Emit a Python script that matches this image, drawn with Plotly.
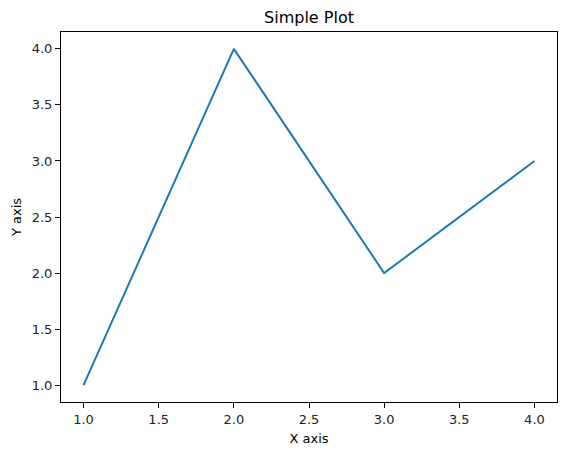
import plotly.graph_objects as go

x_vals = [1, 2, 3, 4]
y_vals = [1, 4, 2, 3]
x_ticks = [1.0, 1.5, 2.0, 2.5, 3.0, 3.5, 4.0]
y_ticks = [1.0, 1.5, 2.0, 2.5, 3.0, 3.5, 4.0]

fig = go.Figure()
fig.add_trace(go.Scatter(x=x_vals, y=y_vals, mode="lines",
                         line=dict(color="#1f77b4", width=2)))

font = "DejaVu Sans"
axis_common = dict(showgrid=False, zeroline=False, showline=True, linecolor="black",
                   linewidth=1, mirror=True, ticks="outside", ticklen=5, tickwidth=1,
                   tickcolor="black", automargin=False,
                   tickfont=dict(family=font, size=13, color="#222"))

# page body has an 8px default margin; size the figure to fit the window inside it
fig.update_layout(
    width=551, height=439,
    margin=dict(l=53, r=2, t=24, b=45, autoexpand=False),
    paper_bgcolor="white", plot_bgcolor="white",
    showlegend=False,
    font=dict(family=font, size=13, color="black"),
    title=dict(text="Simple Plot", x=0.5, xref="paper", y=1, yref="paper",
               yanchor="bottom", xanchor="center", pad=dict(b=9), automargin=False,
               font=dict(family=font, size=16, color="black")),
    xaxis=dict(range=[0.85, 4.15], tickvals=x_ticks,
               ticktext=[f"{v:.1f}" for v in x_ticks],
               title=dict(text="X axis", font=dict(family=font, size=13), standoff=8),
               **axis_common),
    yaxis=dict(range=[0.85, 4.15], tickvals=y_ticks,
               ticktext=[f"{v:.1f}" for v in y_ticks],
               title=dict(text="Y axis", font=dict(family=font, size=13), standoff=7),
               **axis_common),
)

fig.write_html("out.html")
